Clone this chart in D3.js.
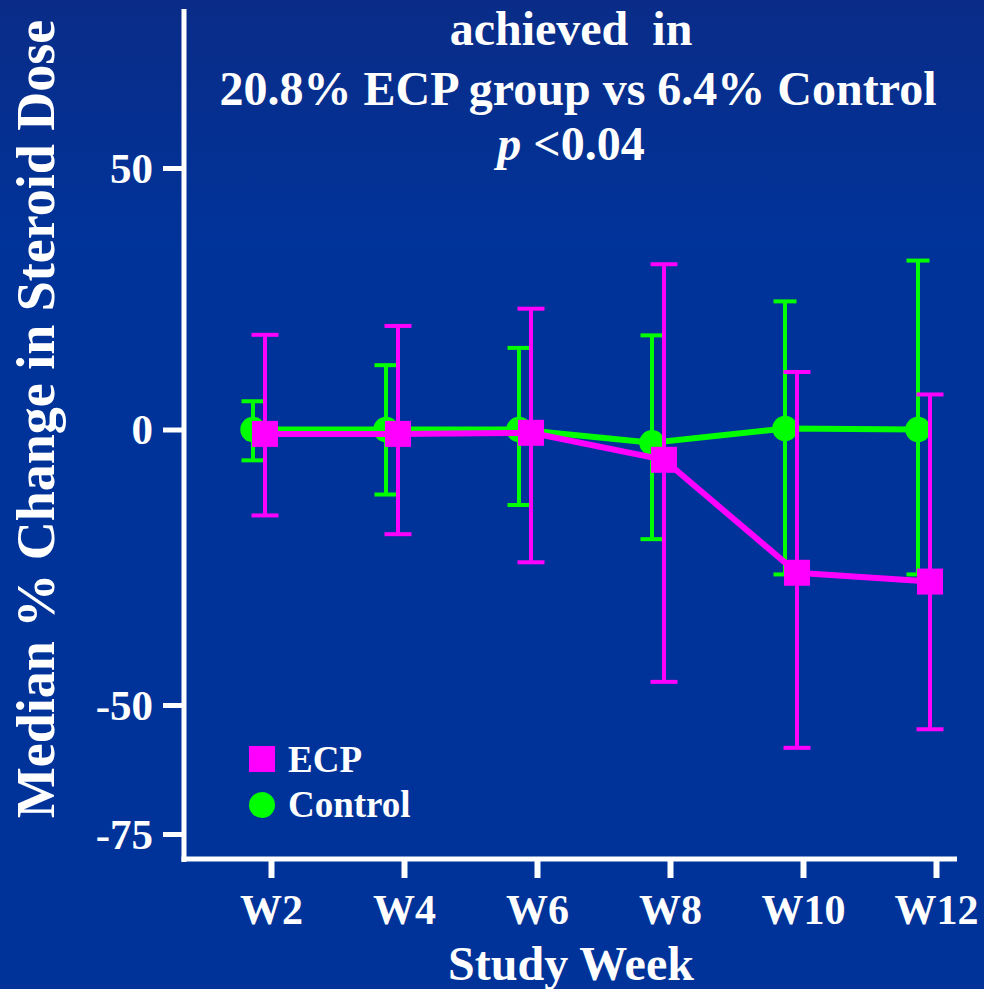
<!DOCTYPE html>
<html>
<head>
<meta charset="utf-8">
<script src="https://cdn.jsdelivr.net/npm/d3@7"></script>
<style>
  html, body { margin: 0; padding: 0; background: #003399; }
  svg { display: block; }
  text { font-family: "Liberation Serif", "Times New Roman", serif; font-weight: bold; fill: #ffffff; white-space: pre; }
</style>
</head>
<body>
<svg id="chart" width="984" height="989"></svg>
<script>
// Study weeks on the x axis
const weeks = ["W2", "W4", "W6", "W8", "W10", "W12"];

// Median % change in steroid dose, with upper / lower error limits
const ecpMedian  = [-0.8, -0.8, -0.6, -5.5, -26.0, -27.6];
const ecpUpper   = [18.1, 19.8, 23.1, 31.6, 11.0, 6.7];
const ecpLower   = [-15.6, -19.0, -24.1, -45.8, -58.3, -54.7];

const ctlMedian  = [0.0, 0.0, 0.0, -2.4, 0.2, 0.0];
const ctlUpper   = [5.4, 12.3, 15.6, 18.0, 24.5, 32.3];
const ctlLower   = [-5.6, -11.8, -13.7, -19.9, -26.3, -26.3];

// Y axis tick values and their labels
const yTicks = [50, 0, -50, -75];
const yTickLabels = ["50", "0", "-50", "-75"];

const titleLines = ["achieved  in", "20.8% ECP group vs 6.4% Control"];

const svg = d3.select("#chart");

// Background: deep blue, slightly darker at the top
const defs = svg.append("defs");
const grad = defs.append("linearGradient")
  .attr("id", "bg").attr("x1", 0).attr("y1", 0).attr("x2", 0).attr("y2", 1);
grad.append("stop").attr("offset", "0%").attr("stop-color", "#0a2c88");
grad.append("stop").attr("offset", "25%").attr("stop-color", "#003399");
grad.append("stop").attr("offset", "100%").attr("stop-color", "#003399");
svg.append("rect").attr("width", 984).attr("height", 989).attr("fill", "url(#bg)");

// Scales
const x = d3.scalePoint().domain(weeks).range([271, 936]);
const y = d3.scaleLinear().domain([-75, -50, 0, 50]).range([834, 705, 429.5, 168]);

const axisX = 184;   // left spine position
const axisY = 859;   // bottom spine position

// Y axis
const yAxis = d3.axisLeft(y).tickValues(yTicks).tickSize(21).tickPadding(10)
  .tickFormat((d, i) => yTickLabels[i]);
const gy = svg.append("g").attr("transform", `translate(${axisX},0)`).call(yAxis);
gy.select(".domain").remove();
gy.selectAll(".tick line").attr("stroke", "#fff").attr("stroke-width", 5);
gy.selectAll(".tick text")
  .style("font-family", '"Liberation Serif", serif').style("font-weight", "bold")
  .style("font-size", "43px").attr("fill", "#fff").attr("dy", "0.33em");

// X axis
const xAxis = d3.axisBottom(x).tickSize(19).tickPadding(16);
const gx = svg.append("g").attr("transform", `translate(0,${axisY})`).call(xAxis);
gx.select(".domain").remove();
gx.selectAll(".tick line").attr("stroke", "#fff").attr("stroke-width", 6);
gx.selectAll(".tick text")
  .style("font-family", '"Liberation Serif", serif').style("font-weight", "bold")
  .style("font-size", "42px").attr("fill", "#fff").attr("dy", "0.71em");

// Spines
svg.append("line").attr("x1", axisX).attr("x2", axisX).attr("y1", 9).attr("y2", axisY + 3)
  .attr("stroke", "#fff").attr("stroke-width", 5);
svg.append("line").attr("x1", axisX - 2.5).attr("x2", 957).attr("y1", axisY).attr("y2", axisY)
  .attr("stroke", "#fff").attr("stroke-width", 5);

// Series
const series = [
  { name: "Control", color: "#00ff00", shift: -18, median: ctlMedian, upper: ctlUpper, lower: ctlLower, marker: "circle", cap: 23 },
  { name: "ECP", color: "#ff00ff", shift: -6, median: ecpMedian, upper: ecpUpper, lower: ecpLower, marker: "square", cap: 27 }
];

series.forEach(s => {
  const g = svg.append("g");
  const pts = weeks.map((w, i) => ({ x: x(w) + s.shift, m: s.median[i], hi: s.upper[i], lo: s.lower[i] }));

  // Error bars
  pts.forEach(p => {
    g.append("line").attr("x1", p.x).attr("x2", p.x).attr("y1", y(p.hi)).attr("y2", y(p.lo))
      .attr("stroke", s.color).attr("stroke-width", 4);
    [p.hi, p.lo].forEach(v => {
      g.append("line").attr("x1", p.x - s.cap / 2).attr("x2", p.x + s.cap / 2)
        .attr("y1", y(v)).attr("y2", y(v))
        .attr("stroke", s.color).attr("stroke-width", 4);
    });
  });

  // Connecting line
  const line = d3.line().x(p => p.x).y(p => y(p.m));
  g.append("path").datum(pts).attr("d", line)
    .attr("fill", "none").attr("stroke", s.color).attr("stroke-width", 6)
    .attr("stroke-linejoin", "miter");

  // Markers
  if (s.marker === "circle") {
    g.selectAll("circle.pt").data(pts).join("circle")
      .attr("cx", p => p.x).attr("cy", p => y(p.m)).attr("r", 12.7).attr("fill", s.color);
  } else {
    g.selectAll("rect.pt").data(pts).join("rect")
      .attr("x", p => p.x - 13).attr("y", p => y(p.m) - 13)
      .attr("width", 26).attr("height", 26).attr("fill", s.color);
  }
});

// Legend
const legend = svg.append("g");
legend.append("rect").attr("x", 249).attr("y", 746).attr("width", 26).attr("height", 26).attr("fill", "#ff00ff");
legend.append("text").attr("x", 288).attr("y", 772).style("font-size", "37px").text("ECP");
legend.append("circle").attr("cx", 262).attr("cy", 805).attr("r", 13).attr("fill", "#00ff00");
legend.append("text").attr("x", 288).attr("y", 817).style("font-size", "37px").text("Control");

// Title lines
svg.append("text").attr("x", 571).attr("y", 45).attr("text-anchor", "middle")
  .attr("xml:space", "preserve")
  .style("font-size", "48px").text(titleLines[0]);
svg.append("text").attr("x", 578).attr("y", 105).attr("text-anchor", "middle")
  .style("font-size", "48px").text(titleLines[1]);
const pLine = svg.append("text").attr("x", 571).attr("y", 160).attr("text-anchor", "middle")
  .style("font-size", "48px");
pLine.append("tspan").style("font-style", "italic").text("p");
pLine.append("tspan").text(" <0.04");

// Axis titles
svg.append("text").attr("x", 571).attr("y", 980).attr("text-anchor", "middle")
  .style("font-size", "48px").text("Study Week");
svg.append("text").attr("transform", "translate(54,419) rotate(-90)").attr("text-anchor", "middle")
  .style("font-size", "54px").text("Median % Change in Steroid Dose");
</script>
</body>
</html>
